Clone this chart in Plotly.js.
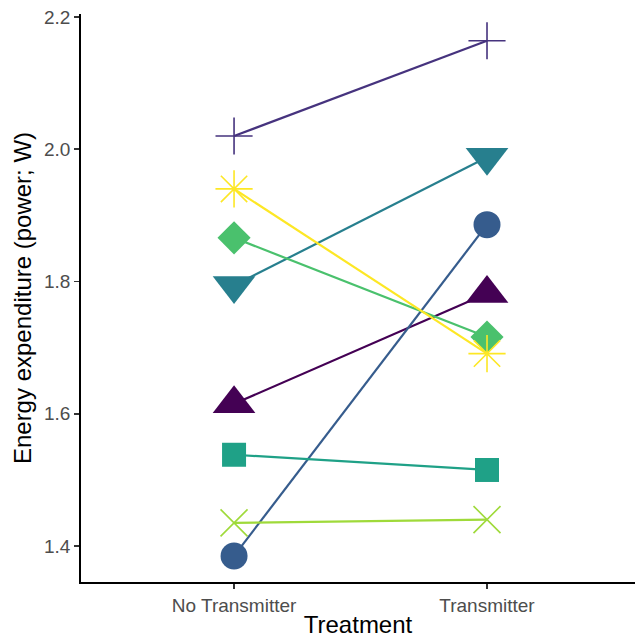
<!DOCTYPE html>
<html>
<head>
<meta charset="utf-8">
<script src="https://cdn.plot.ly/plotly-3.0.1.min.js"></script>
<style>html,body{margin:0;padding:0;background:#fff}#chart{width:635px;height:638px}</style>
</head>
<body>
<div id="chart"></div>
<script>
// Data
const treatments = ["No Transmitter", "Transmitter"];
const groups = ["1", "2", "3", "4", "5", "6", "7", "8"];
const noTransmitter = [1.615, 2.020, 1.385, 1.794, 1.538, 1.866, 1.435, 1.940];
const transmitter   = [1.782, 2.164, 1.886, 1.988, 1.515, 1.716, 1.440, 1.691];

// Styles
const colors = ["#440154", "#46337E", "#365C8D", "#277F8E", "#1FA187", "#4AC16D", "#9FDA3A", "#FDE725"];
const symbols = ["triangle-up", "cross-thin", "circle", "triangle-down", "square", "diamond", "x-thin", "asterisk"];
const sizes = [37, 26.5, 27, 37, 24, 25.5, 27, 31];
const thin = [false, true, false, false, false, false, true, true];

const traces = [];
groups.forEach((g, i) => {
  traces.push({
    type: "scatter", mode: "lines", x: treatments,
    y: [noTransmitter[i], transmitter[i]],
    line: {color: colors[i], width: 2.2}, showlegend: false, hoverinfo: "skip", name: g
  });
});
groups.forEach((g, i) => {
  traces.push({
    type: "scatter", mode: "markers", x: treatments,
    y: [noTransmitter[i], transmitter[i]],
    marker: {
      symbol: symbols[i], size: sizes[i], color: colors[i],
      line: thin[i] ? {color: colors[i], width: 1.6} : {width: 0}
    },
    showlegend: false, name: g
  });
});

const layout = {
  width: 635, height: 638,
  margin: {l: 81, r: 0, t: 14, b: 56},
  paper_bgcolor: "#fff", plot_bgcolor: "#fff",
  font: {family: "Liberation Sans, Arial, sans-serif"},
  xaxis: {
    type: "category", range: [-0.605, 1.585],
    showgrid: false, zeroline: false,
    showline: true, linecolor: "#000", linewidth: 1.8,
    ticks: "outside", ticklen: 5, tickwidth: 1.5, tickcolor: "#333",
    tickfont: {size: 19, color: "#4D4D4D"},
    title: {text: "Treatment", font: {size: 24, color: "#000"}, standoff: 3}
  },
  yaxis: {
    range: [1.3456, 2.2045],
    tickvals: [1.4, 1.6, 1.8, 2.0, 2.2],
    ticktext: ["1.4", "1.6", "1.8", "2.0", "2.2"],
    showgrid: false, zeroline: false,
    showline: true, linecolor: "#000", linewidth: 1.8,
    ticks: "outside", ticklen: 5, tickwidth: 1.5, tickcolor: "#333",
    tickfont: {size: 19, color: "#4D4D4D"},
    title: {text: "Energy expenditure (power; W)", font: {size: 24, color: "#000"}, standoff: 5}
  }
};

Plotly.newPlot("chart", traces, layout, {displayModeBar: false, staticPlot: true});
</script>
</body>
</html>
